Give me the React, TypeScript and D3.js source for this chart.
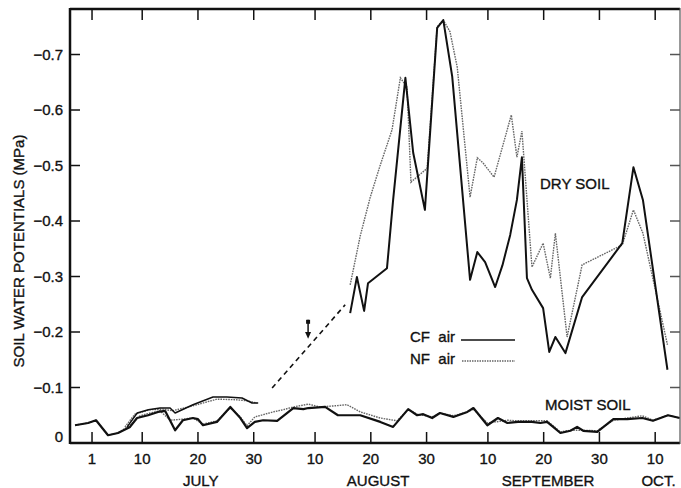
import * as d3 from 'd3';

// day numbers: July 1 = 1, Aug 1 = 32, Sep 1 = 63, Oct 1 = 93
const tickDays = [1, 10, 20, 30, 41, 51, 61, 72, 82, 92, 102];
const tickLabels = ['1', '10', '20', '30', '10', '20', '30', '10', '20', '30', '10'];
const months = ['JULY', 'AUGUST', 'SEPTEMBER', 'OCT.'];
const monthDays = [20.5, 52.3, 82.8, 102.6];
const yTicks = [-0.1, -0.2, -0.3, -0.4, -0.5, -0.6, -0.7];

// CF air, dry soil (solid)
const cfDry: [number, number][] = [
  [47.3, -0.234], [48.5, -0.299], [49.8, -0.238], [50.5, -0.288], [53.9, -0.315],
  [55.0, -0.438], [57.2, -0.658], [58.6, -0.523], [60.7, -0.42], [62.9, -0.748],
  [64.0, -0.762], [65.6, -0.66], [68.8, -0.294], [70.1, -0.344], [71.5, -0.326],
  [73.3, -0.281], [74.6, -0.32], [76.0, -0.375], [77.2, -0.438], [78.1, -0.515],
  [79.0, -0.297], [79.9, -0.276], [81.9, -0.243], [83.0, -0.164], [84.1, -0.191],
  [85.9, -0.162], [88.9, -0.263], [96.1, -0.36], [98.1, -0.497], [99.8, -0.438],
  [104.2, -0.132],
];

// NF air, dry soil (dotted)
const nfDry: [number, number][] = [
  [47.3, -0.285], [49.1, -0.373], [50.9, -0.443], [52.7, -0.501], [54.8, -0.564],
  [56.3, -0.658], [57.5, -0.641], [58.2, -0.47], [61.1, -0.495], [62.9, -0.75],
  [64.0, -0.762], [65.2, -0.741], [66.5, -0.677], [68.8, -0.443], [70.1, -0.514],
  [71.1, -0.505], [73.1, -0.479], [76.2, -0.591], [77.2, -0.515], [78.1, -0.562],
  [79.9, -0.317], [81.9, -0.36], [83.2, -0.297], [84.1, -0.378], [86.2, -0.191],
  [88.9, -0.321], [96.1, -0.357], [98.1, -0.42], [99.8, -0.378], [104.2, -0.177],
];

// dry-soil plots before drying started (July)
const cfDryJuly: [number, number][] = [
  [7.3, -0.029], [9.1, -0.054], [11.1, -0.06], [13.2, -0.063], [15.0, -0.063],
  [15.9, -0.054], [19.1, -0.069], [22.7, -0.083], [25.2, -0.083], [27.9, -0.081],
  [29.7, -0.072], [30.8, -0.072],
];
const nfDryJuly: [number, number][] = [
  [6.9, -0.029], [8.7, -0.052], [11.4, -0.06], [13.7, -0.061], [15.4, -0.058],
  [19.1, -0.067], [23.4, -0.079], [26.7, -0.078], [28.8, -0.076], [30.6, -0.072],
];

// interpolated (dashed) segment and arrow day
const gapLine: [number, number][] = [[33.3, -0.099], [46.4, -0.249]];
const arrowDay = 39.75;

// CF air, moist soil (solid)
const cfMoist: [number, number][] = [
  [-2.05, -0.032], [0.28, -0.036], [1.72, -0.041], [3.87, -0.014], [5.66, -0.018],
  [7.82, -0.029], [9.07, -0.045], [11.05, -0.05], [12.84, -0.056], [14.1, -0.058],
  [15.9, -0.023], [17.3, -0.041], [19.1, -0.045], [20.0, -0.043], [20.9, -0.032],
  [23.4, -0.038], [25.8, -0.065], [27.6, -0.045], [28.8, -0.027], [30.2, -0.038],
  [31.7, -0.041], [34.2, -0.04], [37.1, -0.063], [38.9, -0.061], [39.8, -0.063],
  [42.8, -0.065], [45.1, -0.05], [47.3, -0.05], [49.1, -0.05], [52.7, -0.038],
  [55.0, -0.029], [57.7, -0.061], [59.3, -0.05], [60.4, -0.052], [62.0, -0.045],
  [63.4, -0.054], [65.8, -0.047], [68.3, -0.056], [69.4, -0.063], [71.9, -0.032],
  [73.8, -0.045], [75.5, -0.036], [77.4, -0.038], [79.9, -0.038], [81.4, -0.036],
  [82.6, -0.038], [83.7, -0.029], [85.0, -0.018], [86.8, -0.022], [88.0, -0.029],
  [89.1, -0.022], [91.6, -0.02], [94.5, -0.043], [97.0, -0.043], [99.7, -0.045],
  [101.6, -0.04], [104.3, -0.05], [106.4, -0.045],
];

// NF air, moist soil (dotted)
const nfMoist: [number, number][] = [
  [-2.05, -0.032], [0.28, -0.036], [1.72, -0.041], [3.87, -0.014], [5.66, -0.018],
  [7.8, -0.032], [9.6, -0.049], [11.4, -0.054], [13.2, -0.058], [15.0, -0.041],
  [17.3, -0.043], [19.1, -0.045], [20.9, -0.034], [23.4, -0.04], [25.8, -0.063],
  [27.6, -0.047], [28.8, -0.031], [30.2, -0.047], [33.5, -0.056], [35.3, -0.06],
  [37.1, -0.065], [39.8, -0.07], [41.9, -0.065], [44.6, -0.067], [46.7, -0.069],
  [49.1, -0.056], [52.7, -0.045], [55.7, -0.04], [57.7, -0.06], [59.3, -0.052],
  [62.0, -0.047], [63.4, -0.054], [65.8, -0.049], [68.3, -0.056], [69.4, -0.061],
  [71.9, -0.036], [73.3, -0.038], [75.5, -0.041], [77.4, -0.04], [79.9, -0.04],
  [82.6, -0.04], [83.7, -0.031], [85.0, -0.02], [86.8, -0.023], [89.1, -0.023],
  [91.6, -0.022], [94.5, -0.041], [97.0, -0.045], [99.7, -0.049], [101.6, -0.041],
  [104.3, -0.05], [106.4, -0.045],
];

const W = 681;
const H = 488;
const FONT = 'Liberation Sans, Arial, sans-serif';
const INK = '#111';

export default function App() {
  const x = d3.scaleLinear().domain([-2.95, 106.45]).range([70, 680]);
  const y = d3.scaleLinear().domain([0, -0.782]).range([443, 9]);
  const line = d3
    .line<[number, number]>()
    .x((d) => x(d[0]))
    .y((d) => y(d[1]));

  const solid = { fill: 'none', stroke: INK, strokeWidth: 2, strokeLinejoin: 'round' as const };
  const dotted = {
    fill: 'none',
    stroke: '#666',
    strokeWidth: 1.4,
    strokeDasharray: '1.6 1',
  };
  // slight outline so the text reads as heavy as the scanned original
  const txt = { fill: INK, stroke: INK, strokeWidth: 0.35, fontSize: 15 };

  const ax = x(arrowDay);

  return (
    <svg
      width={W}
      height={H}
      style={{ position: 'fixed', left: 0, top: 0, background: '#fff' }}
      fontFamily={FONT}
    >
      {/* data */}
      <path d={line(nfMoist) || ''} {...dotted} />
      <path d={line(cfMoist) || ''} {...solid} strokeWidth={2.2} />
      <path d={line(nfDryJuly) || ''} {...dotted} />
      <path d={line(cfDryJuly) || ''} {...solid} strokeWidth={1.5} />
      <path d={line(nfDry) || ''} {...dotted} />
      <path d={line(cfDry) || ''} {...solid} />
      <path d={line(gapLine) || ''} fill="none" stroke={INK} strokeWidth={1.6} strokeDasharray="5 4" />

      {/* arrow */}
      <g>
        <rect x={ax - 2} y={y(-0.222)} width={4} height={4} fill={INK} />
        <line x1={ax} x2={ax} y1={y(-0.222)} y2={y(-0.197)} stroke={INK} strokeWidth={1.5} />
        <path
          d={`M${ax - 3},${y(-0.2)} L${ax + 3},${y(-0.2)} L${ax},${y(-0.188)} Z`}
          fill={INK}
        />
      </g>

      {/* frame */}
      <line x1={70} x2={680} y1={9} y2={9} stroke={INK} strokeWidth={2.5} />
      <line x1={70} x2={680} y1={443} y2={443} stroke={INK} strokeWidth={2.5} />
      <line x1={70} x2={70} y1={8} y2={444} stroke={INK} strokeWidth={2.5} />
      <line x1={680} x2={680} y1={8} y2={444} stroke="#555" strokeWidth={1.2} />

      {/* x ticks */}
      {tickDays.map((d, i) => (
        <g key={'xt' + i}>
          <line x1={x(d)} x2={x(d)} y1={443} y2={432} stroke={INK} strokeWidth={1.5} />
          <line x1={x(d)} x2={x(d)} y1={9} y2={20} stroke={INK} strokeWidth={1.5} />
          <text x={x(d)} y={464} textAnchor="middle" {...txt}>
            {tickLabels[i]}
          </text>
        </g>
      ))}
      {months.map((m, i) => (
        <text key={m} x={x(monthDays[i])} y={486} textAnchor="middle" {...txt}>
          {m}
        </text>
      ))}

      {/* y ticks */}
      {yTicks.map((v) => (
        <g key={'yt' + v}>
          <line x1={70} x2={80} y1={y(v)} y2={y(v)} stroke={INK} strokeWidth={1.5} />
          <line x1={670} x2={680} y1={y(v)} y2={y(v)} stroke="#555" strokeWidth={1.5} />
          <text x={63} y={y(v) + 5} textAnchor="end" {...txt}>
            {'\u2212' + Math.abs(v).toFixed(1)}
          </text>
        </g>
      ))}
      <text x={63} y={442} textAnchor="end" {...txt}>
        0
      </text>

      <text transform="translate(24,251) rotate(-90)" textAnchor="middle" {...txt}>
        SOIL WATER POTENTIALS (MPa)
      </text>

      {/* annotations */}
      <text x={540} y={189} {...txt}>
        DRY SOIL
      </text>
      <text x={545} y={410} {...txt}>
        MOIST SOIL
      </text>

      {/* legend */}
      <text x={410} y={342} xmlSpace="preserve" {...txt}>
        CF  air
      </text>
      <line x1={461} x2={515} y1={340} y2={340} stroke={INK} strokeWidth={1.5} />
      <text x={410} y={364} xmlSpace="preserve" {...txt}>
        NF  air
      </text>
      <line x1={462} x2={515} y1={361} y2={361} stroke="#666" strokeWidth={1.3} strokeDasharray="1.5 1" />
    </svg>
  );
}
